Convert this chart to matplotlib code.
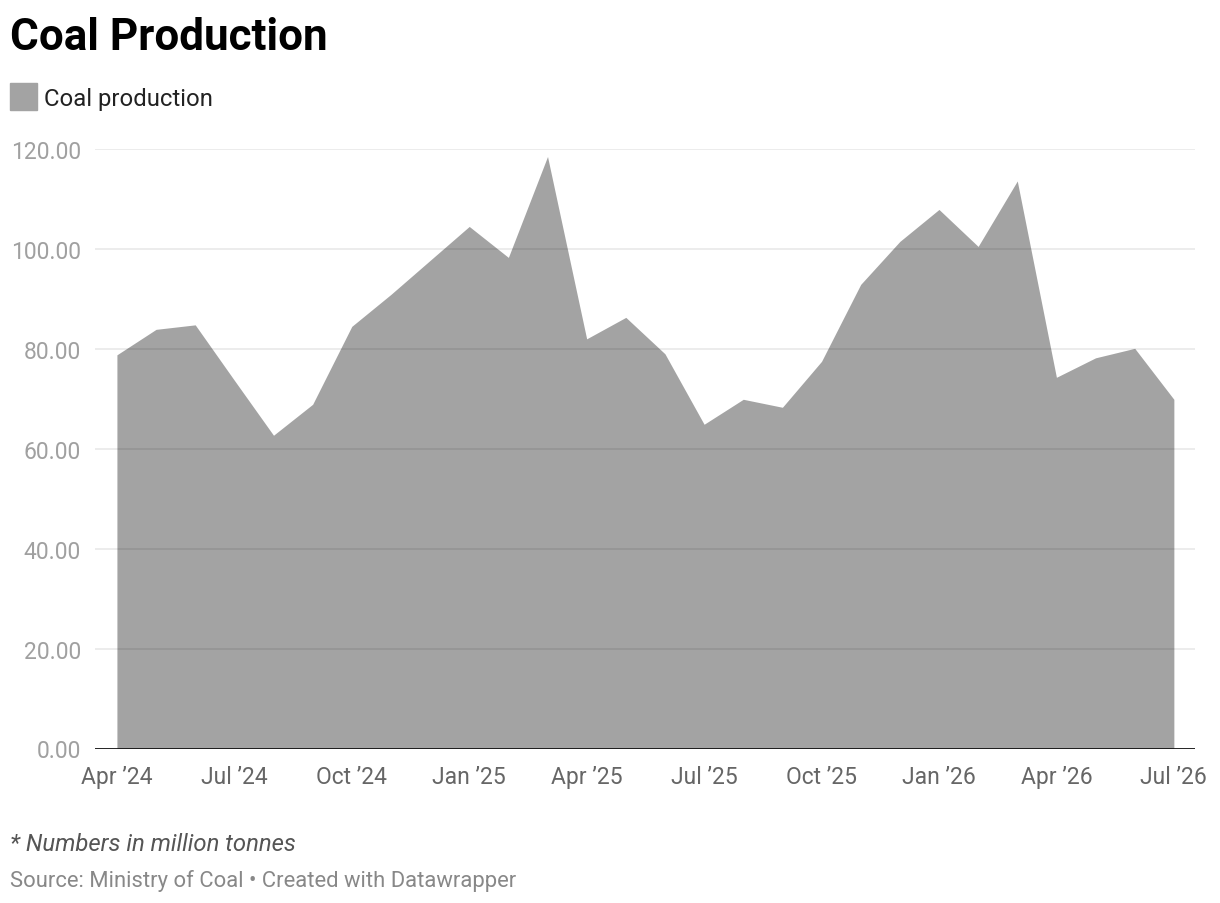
import matplotlib
matplotlib.use("Agg")
import matplotlib.pyplot as plt
from matplotlib.patches import Rectangle

plt.rcParams['font.family'] = ['Roboto', 'DejaVu Sans']

# monthly coal production, Apr 2024 .. Jul 2026 (million tonnes)
months = ["Apr '24", "May '24", "Jun '24", "Jul '24", "Aug '24", "Sep '24",
          "Oct '24", "Nov '24", "Dec '24", "Jan '25", "Feb '25", "Mar '25",
          "Apr '25", "May '25", "Jun '25", "Jul '25", "Aug '25", "Sep '25",
          "Oct '25", "Nov '25", "Dec '25", "Jan '26", "Feb '26", "Mar '26",
          "Apr '26", "May '26", "Jun '26", "Jul '26"]
production = [78.8, 83.9, 84.8, 73.7, 62.7, 68.9,
              84.5, 90.9, 97.7, 104.5, 98.3, 118.5,
              82.0, 86.3, 79.0, 64.9, 69.9, 68.3,
              77.5, 92.9, 101.5, 107.9, 100.5, 113.6,
              74.3, 78.2, 80.1, 69.9]
tick_labels = ["Apr \u201924", "Jul \u201924", "Oct \u201924", "Jan \u201925",
               "Apr \u201925", "Jul \u201925", "Oct \u201925", "Jan \u201926",
               "Apr \u201926", "Jul \u201926"]
yticks = [0, 20, 40, 60, 80, 100, 120]

W, H = 1220, 904
fig = plt.figure(figsize=(W / 100, H / 100), dpi=100)
ax = fig.add_axes([95 / W, 1 - 749.5 / H, 1100 / W, 599.5 / H])

x = list(range(len(months)))
fill_col = '#a3a3a3'
ax.fill_between(x, 0, production, color=fill_col, lw=0, zorder=1)

for v in yticks[1:]:
    ax.axhline(v, color='black', alpha=0.09, lw=1.2, zorder=2)
ax.axhline(0, color='#111111', lw=2, zorder=3)

ax.set_xlim(-0.56, 27.54)
ax.set_ylim(0, 120)
ax.set_xticks(x[::3])
ax.set_xticklabels(tick_labels, fontsize=16.5, color='#666666')
ax.set_yticks(yticks)
ax.set_yticklabels([f"{v:.2f}" for v in yticks], fontsize=16.5, color='#a0a0a0')
ax.tick_params(axis='both', length=0)
ax.tick_params(axis='y', pad=10)
ax.tick_params(axis='x', pad=12)
for s in ax.spines.values():
    s.set_visible(False)
ax.set_facecolor('none')

fig.text(10 / W, 1 - 50 / H, "Coal Production", fontsize=31.7, fontweight='bold',
         color='black', va='baseline', ha='left')
fig.patches.append(Rectangle((10 / W, 1 - 111 / H), 27 / W, 27 / H,
                             transform=fig.transFigure, color=fill_col))
fig.text(44 / W, 1 - 106 / H, "Coal production", fontsize=17.2, color='#222222',
         va='baseline', ha='left')

fig.text(10 / W, 1 - 851 / H, "* Numbers in million tonnes", fontsize=17.2,
         style='italic', color='#555555', va='baseline', ha='left')
fig.text(10 / W, 1 - 887 / H, "Source: Ministry of Coal \u2022 Created with Datawrapper",
         fontsize=15.8, color='#888888', va='baseline', ha='left')

fig.savefig('out.png', dpi=100, facecolor='white')
